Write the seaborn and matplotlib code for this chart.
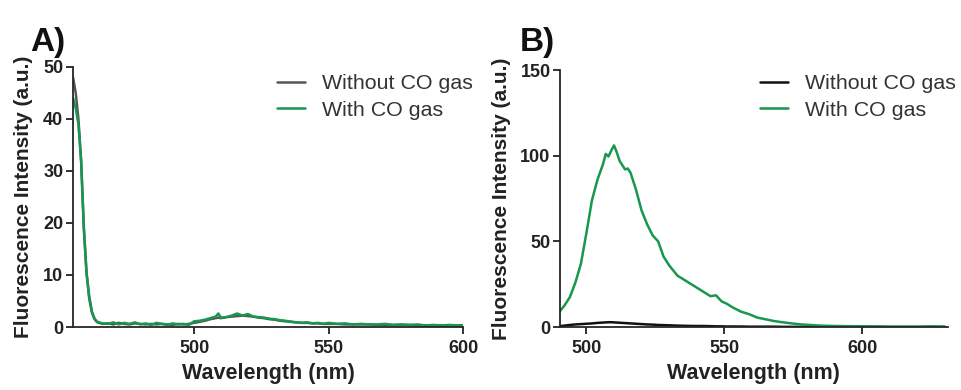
import numpy as np
import pandas as pd
import matplotlib
matplotlib.use("Agg")
import matplotlib.pyplot as plt
import seaborn as sns

# ──────────────────────────────────────────────
# Data
# ──────────────────────────────────────────────

wl_a = [455, 456, 457, 458, 459, 460, 461, 462, 463, 464, 466, 468, 470, 472,
        474, 476, 478, 480, 482, 484, 486, 488, 490, 492, 494, 496, 498, 500,
        502, 504, 506, 508, 509, 510, 512, 514, 516, 518, 520, 522, 524, 526,
        528, 530, 532, 534, 536, 538, 540, 542, 544, 546, 548, 550, 553, 556,
        559, 562, 565, 568, 571, 574, 577, 580, 583, 586, 589, 592, 595, 598, 600]
without_a = [48.0, 45.0, 40.0, 32.0, 19.0, 10.5, 5.5, 2.8, 1.5, 0.9, 0.6, 0.7,
             0.5, 0.8, 0.6, 0.5, 0.7, 0.6, 0.5, 0.6, 0.5, 0.6, 0.5, 0.4, 0.6,
             0.5, 0.6, 0.8, 1.0, 1.2, 1.5, 1.7, 1.8, 1.7, 1.9, 2.0, 2.1, 2.2,
             2.1, 2.0, 1.8, 1.7, 1.5, 1.4, 1.2, 1.1, 1.0, 0.9, 0.8, 0.8, 0.7,
             0.7, 0.6, 0.6, 0.6, 0.5, 0.5, 0.5, 0.5, 0.4, 0.4, 0.4, 0.4, 0.4,
             0.3, 0.3, 0.3, 0.3, 0.3, 0.3, 0.3]
with_a = [44.0, 42.0, 39.0, 32.0, 19.5, 10.5, 6.0, 3.0, 1.6, 1.0, 0.7, 0.6,
          0.9, 0.5, 0.8, 0.6, 0.9, 0.5, 0.7, 0.4, 0.8, 0.6, 0.4, 0.7, 0.5,
          0.6, 0.4, 1.1, 1.2, 1.4, 1.7, 2.0, 2.6, 1.8, 1.9, 2.2, 2.6, 2.2,
          2.5, 2.0, 1.9, 1.8, 1.6, 1.5, 1.3, 1.2, 1.0, 0.9, 0.8, 0.9, 0.7,
          0.8, 0.6, 0.8, 0.6, 0.7, 0.5, 0.6, 0.5, 0.5, 0.6, 0.4, 0.5, 0.4,
          0.5, 0.3, 0.4, 0.3, 0.4, 0.3, 0.3]

wl_b = [490, 492, 494, 496, 498, 500, 502, 504, 506, 507, 508, 509, 510, 511,
        512, 514, 515, 516, 518, 520, 522, 524, 526, 528, 530, 533, 536, 539,
        542, 545, 547, 549, 551, 553, 556, 559, 562, 565, 568, 571, 575, 578,
        581, 585, 590, 595, 600, 603, 605, 610, 615, 620, 625, 630]
without_b = [0.5, 0.8, 1.2, 1.5, 1.7, 1.9, 2.1, 2.4, 2.6, 2.7, 2.8, 2.8, 2.7,
             2.6, 2.5, 2.3, 2.2, 2.1, 1.9, 1.7, 1.5, 1.4, 1.2, 1.1, 1.0, 0.8,
             0.7, 0.6, 0.6, 0.5, 0.4, 0.4, 0.3, 0.3, 0.3, 0.2, 0.2, 0.2, 0.2,
             0.1, 0.1, 0.1, 0.1, 0.1, 0.1, 0.1, 0.1, 0.1, np.nan, np.nan,
             np.nan, np.nan, np.nan, np.nan]
with_b = [8.5, 12.5, 17.5, 26.0, 37.0, 55.0, 74.0, 86.0, 95.0, 101.0, 99.5,
          103.0, 106.0, 102.0, 97.0, 92.0, 92.5, 90.0, 80.0, 68.0, 60.0, 53.5,
          50.0, 41.0, 36.0, 30.0, 27.0, 24.0, 21.0, 18.0, 18.5, 15.0, 13.5,
          11.5, 9.0, 7.5, 5.5, 4.5, 3.5, 2.8, 2.0, 1.5, 1.2, 0.8, 0.6, 0.5,
          0.4, 0.4, 0.4, 0.3, 0.3, 0.3, 0.4, 0.3]

LABEL_OFF = "Without CO gas"
LABEL_ON = "With CO gas"
GREEN = "#17974f"


def to_long(wl, without, with_co):
    a = pd.DataFrame({"wl": wl, "intensity": without, "cond": LABEL_OFF})
    b = pd.DataFrame({"wl": wl, "intensity": with_co, "cond": LABEL_ON})
    return pd.concat([a, b], ignore_index=True).dropna()


df_a = to_long(wl_a, without_a, with_a)
df_b = to_long(wl_b, without_b, with_b)

# ──────────────────────────────────────────────
# Plot
# ──────────────────────────────────────────────

sns.set_style("ticks")
plt.rcParams["font.family"] = ["Liberation Sans", "DejaVu Sans"]
plt.rcParams["axes.linewidth"] = 1.3

fig = plt.figure(figsize=(9.61, 3.90), dpi=100)
ax_a = fig.add_axes([0.076, 0.1615, 0.406, 0.667])
ax_b = fig.add_axes([0.583, 0.1615, 0.403, 0.659])


def style_panel(ax, palette, df, xlim, ylim, yticks, leg_xy):
    sns.lineplot(data=df, x="wl", y="intensity", hue="cond",
                 hue_order=[LABEL_OFF, LABEL_ON], palette=palette,
                 linewidth=1.8, ax=ax, sort=False, estimator=None)
    ax.set_xlim(*xlim)
    ax.set_ylim(*ylim)
    ax.set_xticks([500, 550, 600])
    ax.set_yticks(yticks)
    sns.despine(ax=ax)
    ax.tick_params(length=5, width=1.3, labelsize=13, colors="#222222")
    ax.tick_params(axis="x", pad=4)
    ax.tick_params(axis="y", pad=2)
    for lab in ax.get_xticklabels() + ax.get_yticklabels():
        lab.set_fontweight("bold")
    ax.set_xlabel("Wavelength (nm)", fontsize=15.5, fontweight="bold",
                  color="#222222", labelpad=5)
    ax.set_ylabel("Fluorescence Intensity (a.u.)", fontsize=15,
                  fontweight="bold", color="#222222", labelpad=7)
    leg = ax.legend(loc="upper left", bbox_to_anchor=leg_xy, frameon=False,
                    fontsize=15.4, handlelength=1.3, handletextpad=0.8,
                    labelspacing=0.35, borderpad=0, borderaxespad=0)
    for t in leg.get_texts():
        t.set_color("#333333")
    for h in leg.get_lines():
        h.set_linewidth(1.8)


style_panel(ax_a, {LABEL_OFF: "#555555", LABEL_ON: GREEN}, df_a,
            (455, 600), (0, 50), [0, 10, 20, 30, 40, 50], (0.523, 0.972))
style_panel(ax_b, {LABEL_OFF: "#111111", LABEL_ON: GREEN}, df_b,
            (490.5, 631), (0, 150), [0, 50, 100, 150], (0.515, 0.983))

fig.text(0.031, 0.87, "A)", fontsize=24, fontweight="bold", color="#111111")
fig.text(0.541, 0.87, "B)", fontsize=24, fontweight="bold", color="#111111")

fig.savefig("out.png", dpi=100)
